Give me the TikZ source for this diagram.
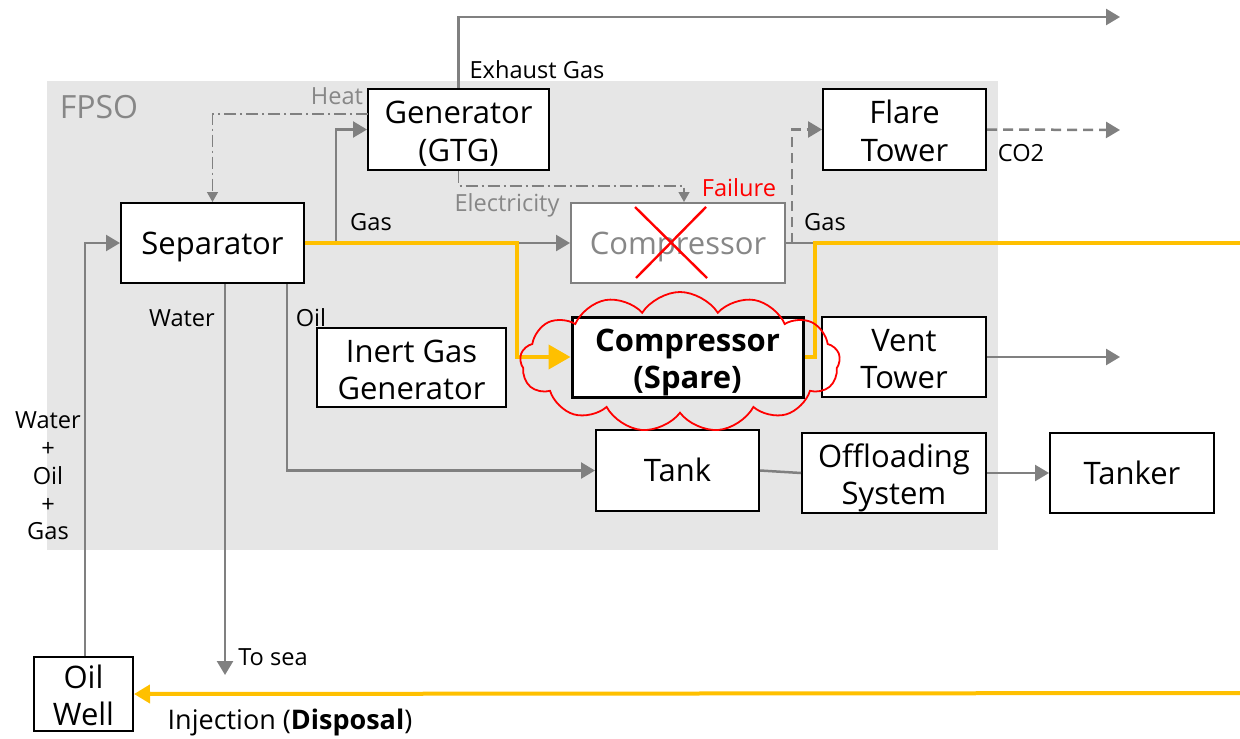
\documentclass[tikz,border=0pt]{standalone}
\usepackage{fontspec}
\setmainfont{Open Sans}
\usetikzlibrary{arrows.meta,shapes.symbols,calc}
\definecolor{lgray}{RGB}{128,128,128}
\definecolor{bggray}{RGB}{230,230,230}
\definecolor{ylw}{RGB}{255,192,0}
\definecolor{txtgray}{RGB}{135,135,135}
\tikzset{
  box/.style={draw=black, line width=1pt, fill=white, align=center, inner sep=0pt,
    font=\fontsize{15.5}{18.5}\selectfont, text height=13pt, text depth=2pt},
  box2/.style={box, text height=33.5pt, text depth=2pt},
  lbl/.style={font=\fontsize{11.8}{14}\selectfont, inner sep=0pt},
  flow/.style={draw=lgray, line width=1.25pt, -{Triangle[length=7pt,width=8pt]}},
  pline/.style={draw=lgray, line width=1.25pt},
  dflow/.style={draw=lgray, line width=1.25pt, dash pattern=on 5pt off 3pt, -{Triangle[length=7pt,width=8pt]}},
  ddflow/.style={draw=lgray, line width=0.7pt, dash pattern=on 6pt off 2pt on 1pt off 2pt, -{Triangle[length=5pt,width=5.5pt]}},
  yflow/.style={draw=ylw, line width=2pt},
}
\begin{document}
\begin{tikzpicture}[x=0.5pt,y=-0.5pt]
\useasboundingbox (0,0) rectangle (1240,738);
% FPSO background
\fill[bggray] (47,81) rectangle (998,550);
\node[font=\fontsize{16}{18}\selectfont, text=txtgray, inner sep=0pt] (fpso) at (99,107) {FPSO};

% coordinates
\coordinate (sea) at (225,675);
\coordinate (oilx) at (287,0);
\coordinate (gb) at (336,243);
\coordinate (heatx) at (368,114);
\coordinate (exh) at (1120,17);
\coordinate (elec) at (684,186);
\coordinate (fl) at (792,243);
\coordinate (cg) at (815,243);
\coordinate (co2) at (1120,130);
\coordinate (ventend) at (1120,357);
\coordinate (yturn) at (517,243);
\coordinate (yright) at (1240,243);
\coordinate (inj) at (1240,693);

% boxes
\node[box, minimum width=91.5pt, minimum height=40pt] (sep) at (212.5,243) {Separator};
\node[box2, minimum width=90.5pt, minimum height=40.5pt] (gen) at (458.5,129.5) {Generator\\(GTG)};
\node[box2, minimum width=81.5pt, minimum height=40.5pt] (flare) at (904.5,129.5) {Flare\\Tower};
\node[box, draw=lgray, text=txtgray, minimum width=107pt, minimum height=40pt] (comp) at (678,243) {Compressor};
\node[box2, line width=1.5pt, font=\fontsize{15.5}{18.5}\selectfont\bfseries, minimum width=115.5pt, minimum height=40pt] (spare) at (687.5,357) {Compressor\\(Spare)};
\node[box2, minimum width=82pt, minimum height=40pt] (vent) at (904,357) {Vent\\Tower};
\node[box2, minimum width=94.5pt, minimum height=39.5pt] (inert) at (411.5,367.5) {Inert Gas\\Generator};
\node[box, minimum width=81.5pt, minimum height=40.5pt] (tank) at (677.5,470.5) {Tank};
\node[box2, minimum width=92pt, minimum height=40pt] (offl) at (894,473) {Offloading\\System};
\node[box, minimum width=82pt, minimum height=40pt] (tanker) at (1132,473) {Tanker};
\node[box2, minimum width=49.5pt, minimum height=37pt] (well) at (83.5,694) {Oil\\Well};

% connectors
\draw[flow] (well.north -| 85,0) |- (sep.west);
\draw[flow] (sep.south -| sea) -- (sea);
\draw[flow] (sep.south -| oilx) |- (tank.west);
\draw[flow] (sep.east) -- (comp.west);
\draw[flow] (gb) |- (gen.west);
\draw[ddflow] (heatx) -| (sep.north);
\draw[pline,-{Triangle[length=7pt,width=8pt]}] (gen.north) |- (exh);
\draw[ddflow] (gen.south) |- (elec) -- (comp.north -| elec);
\draw[pline] (comp.east) -- (cg);
\draw[dflow] (fl) |- (flare.west);
\draw[dflow] (flare.east) -- (co2);
\draw[flow] (vent.east) -- (ventend);
\draw[pline] (tank.east) -- (offl.west);
\draw[flow] (offl.east) -- (tanker.west);

% yellow paths
\draw[yflow, -{Triangle[length=11pt,width=12pt]}] (sep.east) -- (yturn) |- (spare.west);
\draw[yflow] (spare.east) -- (spare.east -| cg) -- (cg) -- (yright);
\draw[yflow, -{Triangle[length=8pt,width=9pt]}] (inj) -- (well.east);

% cloud and X
\node[cloud, cloud puffs=13, cloud puff arc=115, aspect=2.4, draw=red, line width=0.9pt,
      minimum width=160pt, minimum height=70pt] (cloud) at (680,362) {};
\draw[red, line width=1.2pt] (635,207) -- (707,278);
\draw[red, line width=1.2pt] (706,207) -- (636,278);

% labels
\node[lbl, align=center, font=\fontsize{11.8}{13.9}\selectfont] (wog) at (48,476) {Water\\+\\Oil\\+\\Gas};
\node[lbl] (lgas1) at (371,222) {Gas};
\node[lbl] (lexh) at (537,70) {Exhaust Gas};
\node[lbl, text=txtgray] (lheat) at (337,96) {Heat};
\node[lbl, text=txtgray] (lelec) at (507,205) {Electricity};
\node[lbl, text=red] (lfail) at (739,188) {Failure};
\node[lbl] (lgas2) at (825,222) {Gas};
\node[lbl] (lco2) at (1021,153) {CO2};
\node[lbl] (lwater) at (182,318) {Water};
\node[lbl] (loil) at (311,318) {Oil};
\node[lbl] (lsea) at (273,657) {To sea};
\node[lbl, font=\fontsize{13.5}{15}\selectfont] (linj) at (290,722) {Injection (\textbf{Disposal})};
\end{tikzpicture}
\end{document}
